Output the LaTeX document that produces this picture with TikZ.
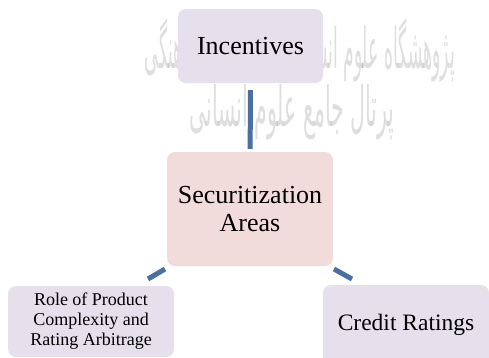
\documentclass[tikz,border=0pt]{standalone}
\usepackage{graphicx}
\usepackage{fontspec}
\setmainfont{Liberation Serif}
\newfontfamily\arabicfont[Script=Arabic]{DejaVu Sans}
\TeXXeTstate=1
\definecolor{lav}{HTML}{E5E0EC}
\definecolor{pinkbox}{HTML}{F2DCDB}
\definecolor{conn}{HTML}{4A6FA5}
\begin{document}
\begin{tikzpicture}[x=1pt,y=-1pt,
  box/.style={rounded corners=8pt, draw=none, align=center, inner sep=0pt, text=black},
  link/.style={draw=conn, line width=5pt},
  mark wm/.style={text=black, text opacity=0.13, inner sep=0pt}]
\useasboundingbox (0,0) rectangle (489,357);
\clip (0,0) rectangle (489,357);
\fill[white] (0,0) rectangle (489,357);
\node[mark wm] (wm1) at (300,50) {\resizebox{310pt}{50pt}{\arabicfont\beginR پژوهشگاه علوم انسانی و مطالعات فرهنگی\endR}};
\node[mark wm] (wm2) at (292,112) {\resizebox{205pt}{42pt}{\arabicfont\beginR پرتال جامع علوم انسانی\endR}};
\node[box, fill=lav, minimum width=145pt, minimum height=74pt,
  font=\fontsize{26}{28}\selectfont] (inc) at (250.5,46) {Incentives};
\node[box, fill=pinkbox, minimum width=166pt, minimum height=114pt,
  font=\fontsize{26}{27.5}\selectfont] (sec) at (250,209) {Securitization\\Areas};
\node[box, fill=lav, minimum width=166pt, minimum height=71pt,
  font=\fontsize{18}{20}\selectfont] (role) at (91,321.5) {Role of Product\\Complexity and\\Rating Arbitrage};
\node[box, fill=lav, minimum width=166pt, minimum height=80pt,
  font=\fontsize{23.5}{26}\selectfont] (credit) at (406,325) {Credit Ratings};
\coordinate (la) at (165,269);
\coordinate (lb) at (148,279);
\coordinate (ra) at (334,269);
\coordinate (rb) at (352,279);
\draw[link, shorten <=7pt, shorten >=3pt] (inc) -- (sec);
\draw[link] (la) -- (lb);
\draw[link] (ra) -- (rb);
\end{tikzpicture}
\end{document}
